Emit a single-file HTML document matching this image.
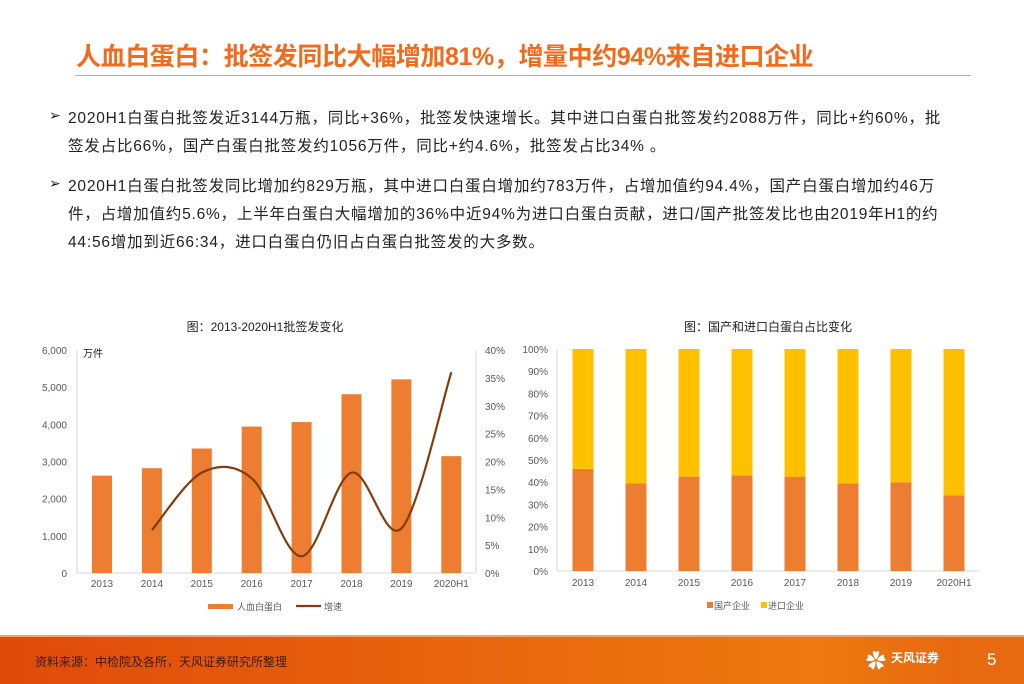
<!DOCTYPE html>
<html><head><meta charset="utf-8">
<style>
body{margin:0;width:1024px;height:682px;position:relative;background:#fff;font-family:"Liberation Sans","Noto Sans CJK SC",sans-serif;overflow:hidden}
.t{position:absolute;white-space:nowrap}
#title{left:76px;top:37px;font-size:25px;font-weight:bold;color:#f26a1b;letter-spacing:-0.4px}
#rule{position:absolute;left:75px;top:75px;width:896px;height:1px;background:#b0b0b0}
.b{position:absolute;left:68px;font-size:15.5px;letter-spacing:0.8px;color:#222;white-space:nowrap}
.arr{position:absolute;left:49px;font-size:14px;color:#222}
#footer{position:absolute;left:0;top:635px;width:1024px;height:47px;background:linear-gradient(90deg,#e04a0a,#ee7a10 80%,#e56010);border-top:2px solid #f4a26c}
</style></head><body>
<div class="t" id="title">人血白蛋白：批签发同比大幅增加81%，增量中约94%来自进口企业</div>
<div id="rule"></div>
<div class="arr" style="top:107px">➢</div>
<div class="b" style="top:106px">2020H1白蛋白批签发近3144万瓶，同比+36%，批签发快速增长。其中进口白蛋白批签发约2088万件，同比+约60%，批</div>
<div class="b" style="top:134px">签发占比66%，国产白蛋白批签发约1056万件，同比+约4.6%，批签发占比34% 。</div>
<div class="arr" style="top:175px">➢</div>
<div class="b" style="top:174px">2020H1白蛋白批签发同比增加约829万瓶，其中进口白蛋白增加约783万件，占增加值约94.4%，国产白蛋白增加约46万</div>
<div class="b" style="top:202px">件，占增加值约5.6%，上半年白蛋白大幅增加的36%中近94%为进口白蛋白贡献，进口/国产批签发比也由2019年H1的约</div>
<div class="b" style="top:230px">44:56增加到近66:34，进口白蛋白仍旧占白蛋白批签发的大多数。</div>

<svg id="c1" style="position:absolute;left:0;top:0" width="1024" height="682"></svg>

<div id="footer">
<div class="t" style="left:35px;top:16px;font-size:12px;color:#3a1a05">资料来源：中检院及各所，天风证券研究所整理</div>
<div class="t" style="left:866px;top:8px;font-size:20px;color:#fff;font-weight:bold">✿</div>
<div class="t" style="left:891px;top:12px;font-size:12px;color:#fff;font-weight:bold">天风证券</div>
<div style="position:absolute;left:958px;top:0;width:66px;height:47px;background:#e86a10"></div>
<div class="t" style="left:987px;top:13px;font-size:17px;color:#fff">5</div>
</div>

<script>
const cats=["2013","2014","2015","2016","2017","2018","2019","2020H1"];
const volume=[2620,2820,3350,3940,4060,4810,5210,3144];
const growth=[null,7.7,18,17,3,18,8,36];
const domestic=[46,39.5,42.5,43,42.5,39.5,40,34];
const leftTicks=[0,1000,2000,3000,4000,5000,6000];
const rightTicks=[0,5,10,15,20,25,30,35,40];
const pctTicks=[0,10,20,30,40,50,60,70,80,90,100];
const NS="http://www.w3.org/2000/svg";
const svg=document.getElementById('c1');
function mk(tag,attrs,parent){const e=document.createElementNS(NS,tag);for(const k in attrs)e.setAttribute(k,attrs[k]);(parent||svg).appendChild(e);return e;}
function txt(x,y,s,size,anchor,fill,name){const e=mk('text',{x:x,y:y,'font-size':size,'text-anchor':anchor,fill:fill,'font-family':'"Liberation Sans","Noto Sans CJK SC",sans-serif'});e.textContent=s;


return e;}
const x1=i=>102+i*49.9;
const yL=v=>573-v/6000*223;
const yR=v=>573-v/40*223;
txt(265,331,"图：2013-2020H1批签发变化",12,"middle","#222","chart1-title");
txt(83,357,"万件",10,"start","#222","y-unit-label");
mk('line',{x1:77,y1:350,x2:77,y2:573,stroke:'#d9d9d9'});
mk('line',{x1:77,y1:573,x2:476,y2:573,stroke:'#d9d9d9'});
mk('line',{x1:476,y1:350,x2:476,y2:573,stroke:'#d9d9d9'});
leftTicks.forEach(v=>{txt(67,yL(v)+4,v.toLocaleString('en-US'),10,"end","#595959","y-left-tick");});
rightTicks.forEach(v=>{txt(485,yR(v)+4,v+"%",10,"start","#595959","y-right-tick");});
cats.forEach((c,i)=>{
 const r=mk('rect',{x:x1(i)-10,y:yL(volume[i]),width:20,height:573-yL(volume[i]),fill:'#ed7d31'});
 
 
 txt(x1(i),587,c,10,"middle","#595959","x-tick");
});
const pts=[];growth.forEach((g,i)=>{if(g!==null)pts.push([x1(i),yR(g)]);});
let d="M"+pts[0][0]+","+pts[0][1];
for(let i=0;i<pts.length-1;i++){const p0=pts[i-1]||pts[i],p1=pts[i],p2=pts[i+1],p3=pts[i+2]||p2;
 const t=0.5/3;
 d+=` C${p1[0]+(p2[0]-p0[0])*t},${p1[1]+(p2[1]-p0[1])*t} ${p2[0]-(p3[0]-p1[0])*t},${p2[1]-(p3[1]-p1[1])*t} ${p2[0]},${p2[1]}`;}
const ln=mk('path',{d:d,fill:'none',stroke:'#843c0c','stroke-width':2.2});


mk('rect',{x:208,y:604,width:25,height:5,fill:'#ed7d31'});
txt(237,610,"人血白蛋白",9,"start","#595959","legend-volume");
mk('line',{x1:296,y1:606,x2:321,y2:606,stroke:'#843c0c','stroke-width':2.2});
txt(324,610,"增速",9,"start","#595959","legend-growth");
const x2=i=>583+i*53;
const yP=v=>571-v/100*222;
txt(768,331,"图：国产和进口白蛋白占比变化",12,"middle","#222","chart2-title");
mk('line',{x1:557,y1:349,x2:557,y2:571,stroke:'#d9d9d9'});
mk('line',{x1:557,y1:571,x2:980,y2:571,stroke:'#d9d9d9'});
pctTicks.forEach(v=>{txt(548,yP(v)+4,v+"%",10,"end","#595959","y-pct-tick");});
cats.forEach((c,i)=>{
 const a=mk('rect',{x:x2(i)-10.5,y:yP(domestic[i]),width:21,height:571-yP(domestic[i]),fill:'#ed7d31'});
 
 
 const b=mk('rect',{x:x2(i)-10.5,y:yP(100),width:21,height:yP(domestic[i])-yP(100),fill:'#ffc000'});
 
 
 txt(x2(i),586,c,10,"middle","#595959","x-tick");
});
mk('rect',{x:707,y:602,width:6,height:6,fill:'#ed7d31'});
txt(714,609,"国产企业",9,"start","#595959","legend-domestic");
mk('rect',{x:761,y:602,width:6,height:6,fill:'#ffc000'});
txt(768,609,"进口企业",9,"start","#595959","legend-import");
</script>
</body></html>
